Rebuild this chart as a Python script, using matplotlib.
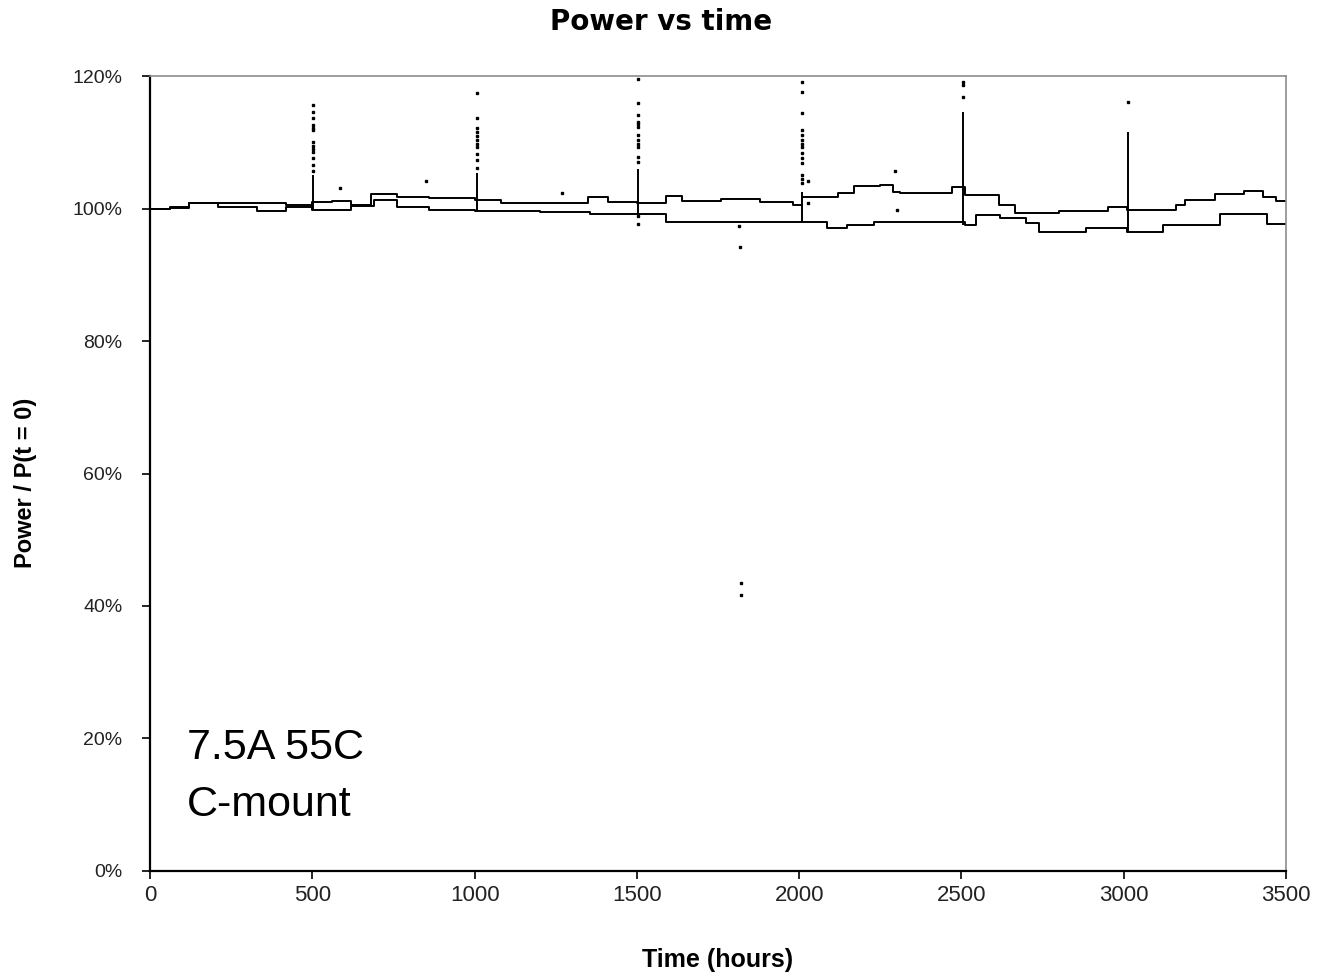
import matplotlib
matplotlib.use("Agg")
import matplotlib.pyplot as plt
from matplotlib.ticker import FuncFormatter

# step data (hours, % of initial power)
t_a = [0, 60, 120, 200, 330, 420, 500, 560, 620, 680, 760, 860, 1000, 1080, 1200,
       1350, 1410, 1500, 1590, 1640, 1760, 1880, 1980, 2010, 2120, 2170, 2250,
       2290, 2310, 2470, 2510, 2615, 2665, 2800, 2950, 3010, 3160, 3190, 3280,
       3370, 3430, 3470, 3500]
p_a = [100.0, 100.2, 100.9, 100.8, 100.9, 100.6, 101.0, 101.1, 100.6, 102.2,
       101.8, 101.6, 101.3, 100.9, 100.9, 101.8, 101.0, 100.9, 101.9, 101.2,
       101.4, 101.0, 100.6, 101.8, 102.3, 103.4, 103.5, 102.5, 102.4, 103.2,
       102.0, 100.5, 99.3, 99.6, 100.3, 99.8, 100.5, 101.3, 102.2, 102.7,
       101.8, 101.2, 101.2]

t_b = [0, 60, 120, 210, 330, 420, 500, 620, 690, 760, 860, 1000, 1100, 1200,
       1355, 1590, 1800, 2010, 2085, 2146, 2230, 2510, 2545, 2618, 2700, 2740,
       2885, 2965, 3010, 3122, 3296, 3440, 3500]
p_b = [100.0, 100.1, 100.9, 100.2, 99.7, 100.2, 99.8, 100.4, 101.3, 100.3,
       99.8, 99.6, 99.7, 99.5, 99.2, 97.9, 98.0, 97.9, 97.0, 97.5, 97.9, 97.5,
       99.0, 98.6, 97.8, 96.5, 97.0, 97.0, 96.5, 97.5, 99.2, 97.7, 97.7]

# glitches at the maintenance stops
spike_t = [501, 1006, 1503, 2008, 2505, 3012]
spike_base = [99.8, 99.6, 99.2, 97.9, 97.5, 96.5]
spike_top = [105.0, 105.3, 106.0, 102.5, 114.6, 111.6]
spike_dots = [
    [105.6, 106.6, 107.6, 108.6, 109.0, 109.5, 110.1, 111.8, 112.2, 112.6, 113.6, 114.6, 115.6],
    [106.1, 107.3, 108.3, 109.3, 109.8, 110.4, 111.0, 111.6, 112.1, 113.6, 117.4],
    [97.6, 98.8, 107.1, 107.8, 109.3, 109.8, 110.4, 111.1, 112.3, 112.7, 113.1, 114.1, 115.9, 119.6],
    [103.9, 104.5, 105.1, 106.9, 107.6, 108.4, 109.3, 109.8, 110.3, 111.1, 111.8, 114.4, 117.6, 119.1],
    [116.9, 118.6, 119.1],
    [116.1],
]

# stray readings
stray_t = [1268, 585, 849, 1815, 1817, 1821, 1821, 2028, 2028, 2295, 2302]
stray_p = [102.3, 103.1, 104.2, 97.3, 94.2, 43.5, 41.7, 104.2, 100.9, 105.7, 99.8]

x_ticks = [0, 500, 1000, 1500, 2000, 2500, 3000, 3500]
y_ticks = [0, 20, 40, 60, 80, 100, 120]

fig = plt.figure(figsize=(13.22, 9.75), dpi=100)
ax = fig.add_axes([0.1135, 0.1067, 0.8593, 0.8153])

ax.plot(t_a, p_a, drawstyle="steps-post", color="black", lw=1.4)
ax.plot(t_b, p_b, drawstyle="steps-post", color="black", lw=1.4)
ax.vlines(spike_t, spike_base, spike_top, color="black", lw=1.4)
for t, dots in zip(spike_t, spike_dots):
    ax.plot([t] * len(dots), dots, ls="none", marker="s", ms=1.8, color="black")
ax.plot(stray_t, stray_p, ls="none", marker="s", ms=1.8, color="black")

ax.set_xlim(0, 3500)
ax.set_ylim(0, 120)
ax.set_xticks(x_ticks)
ax.set_yticks(y_ticks)
ax.yaxis.set_major_formatter(FuncFormatter(lambda v, _: f"{v:.0f}%"))

ax.tick_params(axis="both", direction="out", length=6, width=1.2, color="black")
ax.tick_params(axis="y", pad=14, labelsize=14, labelcolor="#222222")
ax.tick_params(axis="x", pad=4, labelsize=16, labelcolor="#222222")
for lab in ax.get_yticklabels() + ax.get_xticklabels():
    lab.set_family("Liberation Sans")

for side in ["top", "right"]:
    ax.spines[side].set_color("#8c8c8c")
    ax.spines[side].set_linewidth(1.2)
for side in ["left", "bottom"]:
    ax.spines[side].set_color("black")
    ax.spines[side].set_linewidth(1.6)

fig.text(0.5, 0.977, "Power vs time", ha="center", va="center",
         fontsize=20, fontweight="bold", family="DejaVu Sans")
fig.text(0.543, 0.0154, "Time (hours)", ha="center", va="center",
         fontsize=18, fontweight="bold", family="Liberation Sans")
fig.text(0.019, 0.5046, "Power / P(t = 0)", ha="center", va="center",
         rotation=90, fontsize=17, fontweight="bold", family="Liberation Sans")

ax.text(0.0326, 0.1547, "7.5A 55C", transform=ax.transAxes, ha="left",
        va="center", fontsize=31, family="Liberation Sans")
ax.text(0.0326, 0.083, "C-mount", transform=ax.transAxes, ha="left",
        va="center", fontsize=31, family="Liberation Sans")

fig.savefig("out.png", dpi=100)
